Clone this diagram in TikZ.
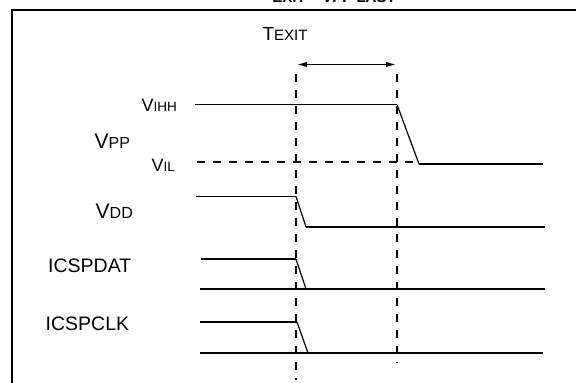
\documentclass[tikz,border=0pt]{standalone}
\usepackage{fontspec}
\setmainfont{Liberation Sans}
\usetikzlibrary{arrows.meta}

% level name: big letter, then smaller capitals
\newcommand{\lvl}[4]{{\fontsize{#1}{#1}\selectfont #3}{\fontsize{#2}{#2}\selectfont #4}}

\tikzset{
	signal/.style = {line width = 1.9pt},
	slope/.style = {line width = 1.2pt},
	marker/.style = {line width = 1.7pt, dash pattern = on 8pt off 8pt},
	label/.style = {inner sep = 0pt, anchor = base west, font = \fontsize{19.5}{22}\selectfont}
}

\begin{document}
\begin{tikzpicture}[x = 1pt, y = -1pt, > = {Latex[length = 11pt, width = 5.5pt]}]

	\useasboundingbox (0, 0) rectangle (576, 383);

	% Frame and (cut) title
	\draw [line width = 2.2pt] (590, 10.3) -- (12, 10.3) -- (12, 395);
	\node [inner sep = 0pt, anchor = base] (title) at (334, 2.5) {\bfseries\lvl{19}{15}{}{EXIT -- V}\lvl{19}{15}{}{PP LAST}};

	% Timing marks
	\coordinate (t1) at (296, 64.5);
	\coordinate (t2) at (397, 64.5);
	\draw [marker] (296, 74) -- (296, 380);
	\draw [marker] (397, 74) -- (397, 363);
	\draw [<->, signal] (t1) -- (t2);
	\node [label] (texit) at (262.3, 40.7) {\lvl{19}{15}{T}{EXIT}};

	% Labels
	\node [label] (vihh) at (141.5, 111) {\lvl{18}{13.5}{V}{IHH}};
	\node [label] (vpp) at (94.5, 148) {\lvl{21}{16}{V}{PP}};
	\node [label] (vil) at (151.5, 171) {\lvl{18}{13.5}{V}{IL}};
	\node [label] (vdd) at (95.5, 218) {\lvl{21}{16}{V}{DD}};
	\node [label] (icspdat) at (48, 272.7) {ICSPDAT};
	\node [label] (icspclk) at (45.5, 330) {ICSPCLK};

	% Waveforms
	\draw [marker] (197, 162) -- (419, 162);
	\draw [signal] (195, 104.5) -- (397, 104.5);
	\draw [slope] (397, 104.5) -- (419, 164);
	\draw [signal] (419, 164) -- (543, 164);

	\draw [signal] (196, 196.5) -- (296, 196.5);
	\draw [slope] (296, 196.5) -- (306, 227);
	\draw [signal] (306, 227) -- (545, 227);

	\draw [signal] (201, 259) -- (296, 259);
	\draw [slope] (296, 259) -- (306, 289);
	\draw [signal] (199.5, 289) -- (545, 289);

	\draw [signal] (199.5, 322) -- (297, 322);
	\draw [slope] (297, 322) -- (308, 353);
	\draw [signal] (199.5, 353) -- (543, 353);

\end{tikzpicture}
\end{document}
